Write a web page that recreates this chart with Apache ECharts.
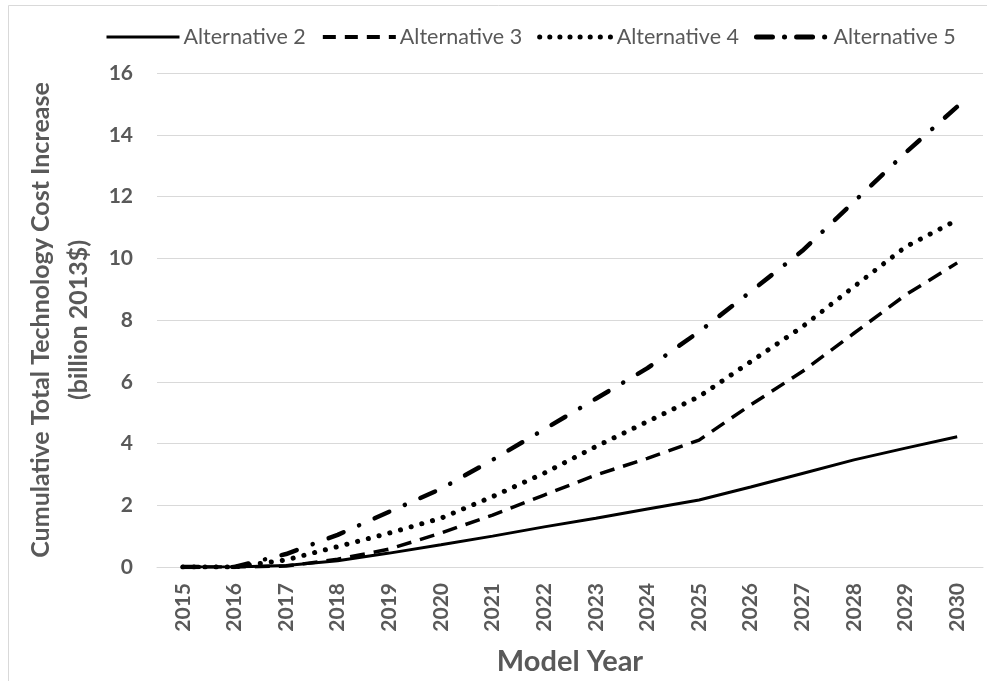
<!DOCTYPE html>
<html>
<head>
<meta charset="utf-8">
<script src="https://cdn.jsdelivr.net/npm/echarts@6/dist/echarts.min.js"></script>
<style>html,body{margin:0;padding:0;background:#fff;}#c{width:987px;height:681px;}</style>
</head>
<body>
<div id="c"></div>
<script>
var years = ['2015','2016','2017','2018','2019','2020','2021','2022','2023','2024','2025','2026','2027','2028','2029','2030'];
var alt2 = [0, 0, 0.05, 0.2, 0.45, 0.72, 1.0, 1.3, 1.58, 1.88, 2.17, 2.59, 3.03, 3.47, 3.85, 4.22];
var alt3 = [0, 0, 0.03, 0.25, 0.58, 1.1, 1.68, 2.33, 2.98, 3.52, 4.11, 5.25, 6.33, 7.57, 8.81, 9.85];
var alt4 = [0, 0, 0.23, 0.66, 1.1, 1.58, 2.28, 3.04, 3.9, 4.71, 5.52, 6.65, 7.78, 9.08, 10.37, 11.24];
var alt5 = [0, 0, 0.42, 1.04, 1.79, 2.53, 3.47, 4.46, 5.45, 6.44, 7.62, 8.92, 10.24, 11.83, 13.42, 14.91];
var seriesNames = ['Alternative 2','Alternative 3','Alternative 4','Alternative 5'];

var FONT = 'Lato';
var GRAY = '#595959';
var styles = [
  { width: 3, type: 'solid' },
  { width: 3.5, type: [15, 9] },
  { width: 5, type: [0.1, 11], cap: 'round' },
  { width: 4.5, type: [16, 17, 0.1, 17], cap: 'round' }
];
var legendStyles = [
  { width: 3, type: 'solid', color: '#000' },
  { width: 4, type: [13, 9], color: '#000' },
  { width: 5, type: [0.1, 10], cap: 'round', color: '#000' },
  { width: 5, type: [16, 12, 0.1, 12], cap: 'round', color: '#000' }
];
var chart = echarts.init(document.getElementById('c'));
function mk(i, data) {
  return { name: seriesNames[i], type: 'line', data: data, symbol: 'none', smooth: false,
    lineStyle: Object.assign({ color: '#000' }, styles[i]), itemStyle: { color: '#000' } };
}
chart.setOption({
  animation: false,
  backgroundColor: '#fff',
  graphic: [{ type: 'rect', left: 6, top: 3, shape: { width: 1000, height: 700 },
    style: { fill: 'none', stroke: '#d9d9d9', lineWidth: 1 }, silent: true, z: -1 }],
  legend: {
    top: 21, left: 100, itemWidth: 73, itemHeight: 14, itemGap: 15,
    itemStyle: { color: 'rgba(0,0,0,0)', borderWidth: 0, opacity: 0 },
    textStyle: { fontFamily: FONT, fontSize: 21.5, color: GRAY, padding: [0, 0, 0, -1] },
    data: seriesNames.map(function (n, i) { return { name: n, lineStyle: legendStyles[i] }; })
  },
  grid: { left: 157, right: 4, top: 73, bottom: 114, containLabel: false },
  xAxis: {
    type: 'category', data: years, boundaryGap: true,
    axisLine: { show: true, lineStyle: { color: '#d9d9d9', width: 1 } },
    axisTick: { show: false },
    axisLabel: { rotate: 90, margin: 16, color: GRAY, fontFamily: FONT, fontWeight: 'bold', fontSize: 21, interval: 0 },
    name: 'Model Year', nameLocation: 'middle', nameGap: 80,
    nameTextStyle: { fontFamily: FONT, fontWeight: 'bold', fontSize: 29, color: GRAY }
  },
  yAxis: {
    type: 'value', min: 0, max: 16, interval: 2,
    axisLine: { show: false }, axisTick: { show: false },
    splitLine: { lineStyle: { color: '#d9d9d9', width: 1 } },
    axisLabel: { margin: 24, color: GRAY, fontFamily: FONT, fontWeight: 'bold', fontSize: 21 },
    name: 'Cumulative Total Technology Cost Increase\n(billion 2013$)', nameLocation: 'middle', nameGap: 53,
    nameTextStyle: { fontFamily: FONT, fontWeight: 'bold', fontSize: 25, color: GRAY, lineHeight: 38 }
  },
  series: [mk(0, alt2), mk(1, alt3), mk(2, alt4), mk(3, alt5)]
});
</script>
</body>
</html>
